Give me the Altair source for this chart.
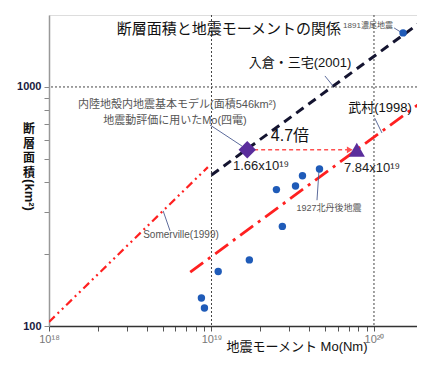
import altair as alt
import pandas as pd

FONT = "Liberation Sans, Noto Sans CJK JP, sans-serif"
JFONT = "Noto Sans CJK JP, sans-serif"

# observed earthquakes (Mo [Nm], fault area [km2])
mo_obs = [1.51e20, 4.62e19, 3.63e19, 3.29e19, 2.51e19, 2.73e19, 1.71e19, 1.10e19, 8.67e18, 9.05e18]
area_obs = [1683, 454, 425, 385, 372, 261, 189, 169, 131, 119]

# scaling-law lines (end points)
irikura_mo = [1.0e19, 2.1e20]
irikura_area = [428, 1943]
somerville_mo = [1.0e18, 9.5e18]
somerville_area = [104, 462]
takemura_mo = [7.4e18, 2.1e20]
takemura_area = [168, 894]

# model points
model_mo = [1.66e19]
model_area = [546]
takemura_pt_mo = [7.84e19]
takemura_pt_area = [546]
arrow_mo = [1.83e19, 7.1e19]
arrow_area = [546, 546]

grid_x = [1e19, 1e20]
grid_y = [1000]
x_ticks = [1e18, 2e18, 3e18, 4e18, 5e18, 6e18, 7e18, 8e18, 9e18,
           1e19, 2e19, 3e19, 4e19, 5e19, 6e19, 7e19, 8e19, 9e19, 1e20]
y_ticks = [100, 200, 300, 400, 500, 600, 700, 800, 900, 1000]

# axis titles
y_title_chars = ["断", "層", "面", "積"]
y_title_unit = "(km²)"
x_title_text = "地震モーメント Mo(Nm)"

# annotation texts
ann_text = ["断層面積と地震モーメントの関係", "1891濃尾地震", "入倉・三宅(2001)", "武村(1998)",
            "内陸地殻内地震基本モデル(面積546km²)", "地震動評価に用いたMo(四電)", "4.7倍",
            "1.66x10¹⁹", "7.84x10¹⁹", "Somerville(1999)", "1927北丹後地震"]
ann_mo = [1.28e19, 9.19e19, 3.51e19, 1.09e20, 6.14e18, 5.96e18, 3.04e19, 2.02e19, 9.73e19, 6.49e18, 5.28e19]
ann_area = [1750, 1799, 1259, 817, 841, 721, 624, 467, 458, 240, 312]
ann_size = [15, 8, 13, 13, 11, 11, 16, 13, 13, 10, 9]
ann_color = ["#111111", "#555555", "#111111", "#111111", "#555555", "#555555", "#111111",
             "#222222", "#222222", "#555555", "#555555"]

# leader lines
lead_mo = [1.33e20, 4.99e19, 1.01e20, 9.8e18, 5.04e18, 4.46e19]
lead_area = [1766, 1112, 741, 693, 303, 336]
lead_mo2 = [1.49e20, 5.60e19, 1.12e20, 1.54e19, 5.56e18, 4.59e19]
lead_area2 = [1683, 1009, 642, 566, 250, 450]

xs = alt.Scale(type="log", domain=[1e18, 1.84e20], nice=False)
ys = alt.Scale(type="log", domain=[100, 2000], nice=False)

x_axis = alt.Axis(values=x_ticks, grid=False, tickSize=5, tickColor="#555", domainColor="#333",
                  domainWidth=1.5, labelFont=FONT, labelFontSize=11, labelColor="#777",
                  labelExpr="datum.value == 1e18 ? '10¹⁸' : datum.value == 1e19 ? '10¹⁹' : datum.value == 1e20 ? '10²⁰' : ''",
                  labelPadding=2, title=None, labelOverlap=False, labelFlush=False)
y_axis = alt.Axis(values=y_ticks, grid=False, tickSize=5, tickColor="#888", domainColor="#999",
                  domainWidth=1.5, labelFont=FONT, labelFontSize=11, labelColor="#1a1a40",
                  labelFontWeight="bold",
                  labelExpr="datum.value == 100 || datum.value == 1000 ? '' + datum.value : ''",
                  labelPadding=3, labelOverlap=False, title=None)

X = alt.X("mo:Q", scale=xs, axis=x_axis)
Y = alt.Y("area:Q", scale=ys, axis=y_axis)

obs = pd.DataFrame({"mo": mo_obs, "area": area_obs})

grid_v = alt.Chart(pd.DataFrame({"mo": grid_x})).mark_rule(
    color="#444", strokeDash=[2, 2], strokeWidth=1).encode(x=X)
grid_h = alt.Chart(pd.DataFrame({"area": grid_y})).mark_rule(
    color="#444", strokeDash=[2, 2], strokeWidth=1).encode(y=Y)


def line(mo, area, color, dash, width):
    return alt.Chart(pd.DataFrame({"mo": mo, "area": area})).mark_line(
        color=color, strokeDash=dash, strokeWidth=width, clip=True).encode(x=X, y=Y)


somer = line(somerville_mo, somerville_area, "#ff2020", [8, 4, 2, 4, 2, 4], 2.2)
takem = line(takemura_mo, takemura_area, "#ff2020", [16, 6, 3, 6], 2.8)
iriku = line(irikura_mo, irikura_area, "#141430", [9, 6], 3)
arrow = line(arrow_mo, arrow_area, "#ff5050", [4, 3], 1.5)

arrow_head = alt.Chart(pd.DataFrame({"mo": [arrow_mo[1]], "area": [arrow_area[1]]})).mark_point(
    shape="triangle-right", filled=True, size=45, color="#ff5050", opacity=1).encode(x=X, y=Y)

leaders = alt.Chart(pd.DataFrame({"mo": lead_mo, "area": lead_area, "mo2": lead_mo2, "area2": lead_area2})).mark_rule(
    color="#4a5a90", strokeWidth=0.9).encode(x=X, y=Y, x2="mo2:Q", y2="area2:Q")

pts = alt.Chart(obs).mark_circle(size=55, color="#1f5bb8", opacity=1).encode(x=X, y=Y)

diamond = alt.Chart(pd.DataFrame({"mo": model_mo, "area": model_area})).mark_point(
    shape="diamond", filled=True, size=300, color="#5a2d9c", opacity=1).encode(x=X, y=Y)
tri = alt.Chart(pd.DataFrame({"mo": takemura_pt_mo, "area": takemura_pt_area})).mark_point(
    shape="triangle-up", filled=True, size=260, color="#5a2d9c", opacity=1).encode(x=X, y=Y)

ann = alt.Chart(pd.DataFrame({"mo": ann_mo, "area": ann_area, "t": ann_text, "fs": ann_size, "c": ann_color})).mark_text(
    font=FONT, align="center", baseline="middle").encode(
    x=X, y=Y, text="t:N", size=alt.Size("fs:Q", scale=None, legend=None),
    color=alt.Color("c:N", scale=None, legend=None))

# vertical y title, one upright character per text mark
ytitle_layers = []
for i, ch in enumerate(y_title_chars):
    ytitle_layers.append(
        alt.Chart(pd.DataFrame({"t": [ch]})).mark_text(
            font=JFONT, fontSize=12, fontWeight="bold", color="#111", align="center", baseline="middle").encode(
            x=alt.value(-20), y=alt.value(114 + 14.5 * i), text="t:N"))

km_title = alt.Chart(pd.DataFrame({"t": [y_title_unit]})).mark_text(
    font=FONT, fontSize=13, fontWeight="bold", angle=90, color="#111", align="center", baseline="middle").encode(
    x=alt.value(-20), y=alt.value(180), text="t:N")
x_title = alt.Chart(pd.DataFrame({"t": [x_title_text]})).mark_text(
    font=FONT, fontSize=13, color="#111", align="center", baseline="middle").encode(
    x=alt.value(248), y=alt.value(332), text="t:N")

chart = alt.layer(grid_v, grid_h, somer, takem, iriku, arrow, arrow_head, leaders, pts, diamond, tri,
                  ann, *ytitle_layers, km_title, x_title).properties(
    width=368, height=311,
    autosize=alt.AutoSizeParams(type="none"),
    padding={"left": 41, "top": 7, "right": 0, "bottom": 28},
).configure_view(stroke=None).configure(background="white")

chart.save("out.html", embed_options={"renderer": "svg", "actions": False})
